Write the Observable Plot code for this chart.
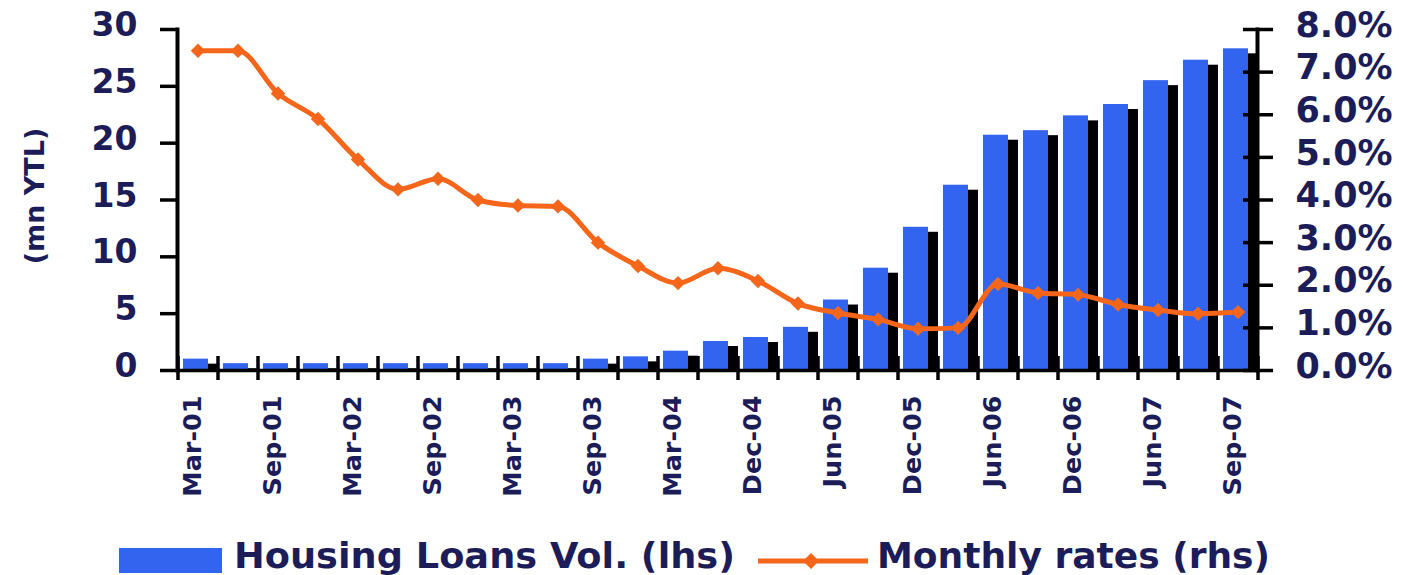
<!DOCTYPE html>
<html><head><meta charset="utf-8">
<script src="https://cdn.jsdelivr.net/npm/d3@7"></script>
<script src="https://cdn.jsdelivr.net/npm/@observablehq/plot@0.6"></script>
<style>
html,body{margin:0;padding:0;background:#fff;}
#chart{width:1403px;height:575px;position:relative;overflow:hidden;background:#fff;}
#chart svg{display:block;}
</style></head>
<body><div id="chart"></div>
<script>
// ---- data ----
const categories = ["Mar-01","Jun-01","Sep-01","Dec-01","Mar-02","Jun-02","Sep-02","Dec-02",
  "Mar-03","Jun-03","Sep-03","Dec-03","Mar-04","Sep-04","Dec-04","Mar-05","Jun-05","Sep-05",
  "Dec-05","Mar-06","Jun-06","Sep-06","Dec-06","Mar-07","Jun-07","Aug-07","Sep-07"];
const volumes = [1.0,0.6,0.6,0.6,0.6,0.6,0.6,0.6,0.6,0.6,1.0,1.2,1.7,2.55,2.9,3.8,6.2,9.0,
  12.6,16.3,20.7,21.1,22.4,23.4,25.5,27.3,28.3];
const rates = [7.5,7.5,6.5,5.9,4.95,4.25,4.5,4.0,3.87,3.85,3.0,2.45,2.05,2.4,2.1,1.57,1.35,1.2,
  0.98,1.0,2.03,1.82,1.78,1.55,1.42,1.33,1.37];
const xTickLabels = ["Mar-01","Sep-01","Mar-02","Sep-02","Mar-03","Sep-03","Mar-04","Dec-04",
  "Jun-05","Dec-05","Jun-06","Dec-06","Jun-07","Sep-07"];
const volTicks = [0,5,10,15,20,25,30];
const rateTicks = [0,1,2,3,4,5,6,7,8];
const seriesNames = ["Housing Loans Vol. (lhs)","Monthly rates (rhs)"];
const yLabel = "(mn YTL)";

// ---- build ----
const navy = "#1c1c58";
const blue = "#3264f0";
const orange = "#f5661a";
const volMax = 30, rateMax = 8;
const k = volMax / rateMax; // maps the right-hand (rate) axis onto the left-hand scale
const data = categories.map((c, i) => ({cat: c, vol: volumes[i], rate: rates[i]}));

const chart = Plot.plot({
  width: 1403, height: 530,
  marginLeft: 177, marginRight: 146, marginTop: 29, marginBottom: 160,
  style: {fontFamily: "DejaVu Sans", fontWeight: "bold", background: "#fff", overflow: "visible"},
  x: {type: "band", domain: categories, paddingInner: 0.375, paddingOuter: 0.1875, axis: null, label: null},
  y: {domain: [0, volMax], axis: null, label: null},
  marks: [
    Plot.barY(data, {x: "cat", y: "vol", fill: "#000", dx: 8, insetTop: 5}),
    Plot.barY(data, {x: "cat", y: "vol", fill: blue, dx: -2}),
    Plot.line(data, {x: "cat", y: d => d.rate * k, stroke: orange, strokeWidth: 5, curve: "monotone-x"}),
    Plot.dot(data, {x: "cat", y: d => d.rate * k, symbol: "diamond2", r: 6.5, fill: orange, stroke: "none"}),
    // axis lines
    Plot.ruleY([0], {stroke: "#000", strokeWidth: 3.5}),
    Plot.frame({anchor: "left", stroke: "#000", strokeWidth: 4}),
    Plot.frame({anchor: "right", stroke: "#000", strokeWidth: 4}),
    // left ticks + labels
    Plot.axisY({ticks: volTicks, anchor: "left", tickSize: 17, strokeWidth: 3.5, stroke: "#000", tickFormat: () => "", label: null}),
    Plot.text(volTicks, {y: d => d, text: d => String(d), frameAnchor: "left", textAnchor: "end",
      dx: -40, dy: -4, fontSize: 33, fontWeight: "bold", fill: navy}),
    // right ticks + labels
    Plot.axisY({ticks: rateTicks.map(r => r * k), anchor: "right", tickSize: 30, dx: -15, strokeWidth: 3.5, stroke: "#000", tickFormat: () => "", label: null}),
    Plot.text(rateTicks, {y: d => d * k, text: d => d.toFixed(1) + "%", frameAnchor: "right", textAnchor: "start",
      dx: 38, dy: -4, fontSize: 35, fontWeight: "bold", fill: navy}),
    // bottom boundary ticks
    Plot.axisX({ticks: categories, anchor: "bottom", tickSize: 24, dy: -14, dx: 20, strokeWidth: 3.5, stroke: "#000", tickFormat: () => "", label: null}),
    Plot.axisX({ticks: [categories[0]], anchor: "bottom", tickSize: 24, dy: -14, dx: -20, strokeWidth: 3.5, stroke: "#000", tickFormat: () => "", label: null}),
    // bottom labels
    Plot.axisX({ticks: xTickLabels, anchor: "bottom", tickSize: 0, tickPadding: 25, tickRotate: -90, dx: -5,
      fontSize: 25.5, fontWeight: "bold", fill: navy, label: null}),
    // y label
    Plot.text([yLabel], {frameAnchor: "left", textAnchor: "middle", dx: -142, dy: -4, rotate: -90, fontSize: 27, fontWeight: "bold", fill: navy})
  ]
});
document.getElementById("chart").appendChild(chart);

// ---- legend below ----
const ns = "http://www.w3.org/2000/svg";
const lg = d3.select("#chart").append("svg").attr("xmlns", ns).attr("width", 1403).attr("height", 45)
  .style("font-family", "DejaVu Sans").style("font-weight", "bold");
lg.append("rect").attr("x", 119).attr("y", 18).attr("width", 103).attr("height", 25).attr("fill", blue);
lg.append("text").attr("x", 234).attr("y", 38).attr("font-size", 35).attr("fill", navy)
  .attr("textLength", 501).attr("lengthAdjust", "spacingAndGlyphs").text(seriesNames[0]);
lg.append("line").attr("x1", 758).attr("x2", 868).attr("y1", 31).attr("y2", 31)
  .attr("stroke", orange).attr("stroke-width", 5);
lg.append("path").attr("d", "M811,23L819,31L811,39L803,31Z").attr("fill", orange);
lg.append("text").attr("x", 877).attr("y", 38).attr("font-size", 35).attr("fill", navy)
  .attr("textLength", 393).attr("lengthAdjust", "spacingAndGlyphs").text(seriesNames[1]);
</script></body></html>
